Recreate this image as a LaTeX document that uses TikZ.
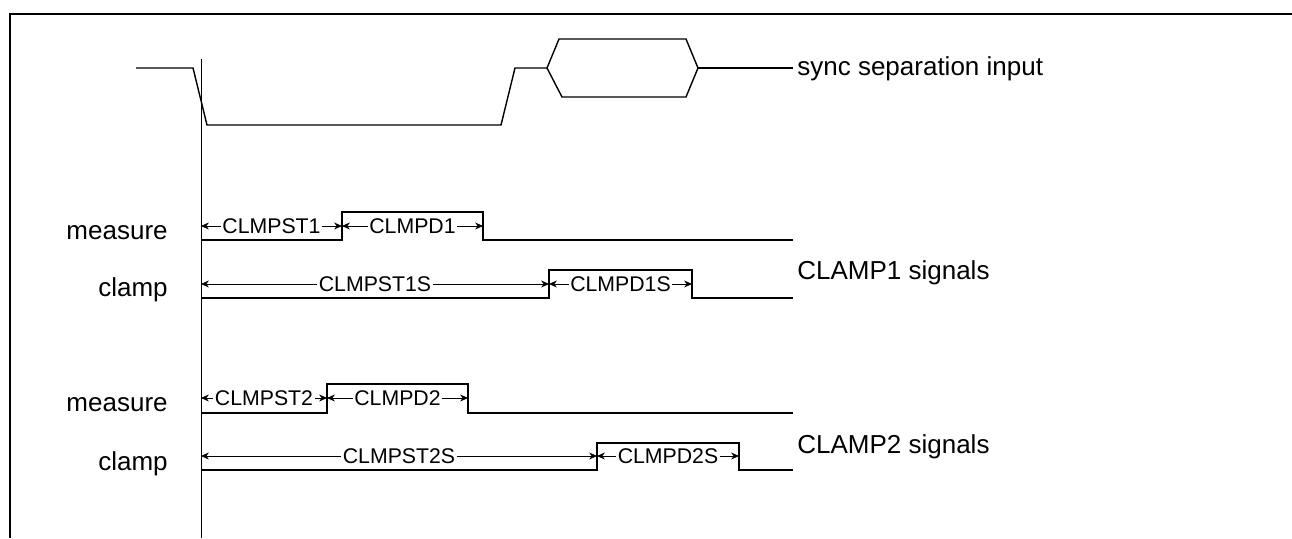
\documentclass[tikz,border=0pt]{standalone}
\usepackage{fontspec}
\setmainfont{Liberation Sans}
\usetikzlibrary{arrows.meta}

\begin{document}
\begin{tikzpicture}[x=0.02cm,y=-0.02cm,
  sig line/.style={line width=0.8pt,line join=miter},
  dim line/.style={{Stealth[length=4.5pt,width=4pt]}-{Stealth[length=4.5pt,width=4pt]},line width=0.45pt},
  dim node/.style={fill=white,inner sep=1pt,font=\fontsize{12.1}{14}\selectfont},
  name node/.style={inner sep=0pt,font=\fontsize{14.8}{17}\selectfont}]
  \useasboundingbox (0,0) rectangle (1292,538);
  % frame and reference edge
  \draw[line width=1.2pt] (10,538) -- (10,14) -- (1292,14);
  \coordinate (ref top) at (201,59);
  \coordinate (ref bot) at (201,538);
  \draw[line width=0.5pt] (ref top) -- (ref bot);

  % sync separation input
  \draw[sig line] (136,68) -- (193,68) -- (207,125) -- (501,125) -- (515,68) -- (547,68);
  \draw[sig line] (547,68) -- (559,39) -- (686,39) -- (698,68) -- (686,97) -- (562,97) -- cycle;
  \draw[sig line] (698,68) -- (793,68);
  \node[name node,anchor=base west] (sync) at (797,75) {sync separation input};

  % CLAMP1
  \node[name node,anchor=base east] (meas1) at (168,239) {measure};
  \node[name node,anchor=base east] (clamp1) at (168,296) {clamp};
  \draw[sig line] (201,240) -- (342,240) -- (342,212) -- (483,212) -- (483,240) -- (793,240);
  \draw[sig line] (201,298) -- (549,298) -- (549,270) -- (692,270) -- (692,298) -- (793,298);
  \coordinate (m1a) at (201,226);
  \coordinate (m1b) at (342,226);
  \coordinate (m1c) at (483,226);
  \coordinate (c1a) at (201,284);
  \coordinate (c1b) at (549,284);
  \coordinate (c1c) at (692,284);
  \draw[dim line] (m1a) -- node[dim node] {CLMPST1} (m1b);
  \draw[dim line] (m1b) -- node[dim node] {CLMPD1} (m1c);
  \draw[dim line] (c1a) -- node[dim node] {CLMPST1S} (c1b);
  \draw[dim line] (c1b) -- node[dim node] {CLMPD1S} (c1c);
  \node[name node,anchor=base west] (sig1) at (797,279) {CLAMP1 signals};

  % CLAMP2
  \node[name node,anchor=base east] (meas2) at (168,411) {measure};
  \node[name node,anchor=base east] (clamp2) at (168,470) {clamp};
  \draw[sig line] (201,413) -- (327,413) -- (327,384) -- (468,384) -- (468,413) -- (793,413);
  \draw[sig line] (201,470) -- (597,470) -- (597,443) -- (739,443) -- (739,470) -- (793,470);
  \coordinate (m2a) at (201,398);
  \coordinate (m2b) at (327,398);
  \coordinate (m2c) at (468,398);
  \coordinate (c2a) at (201,456);
  \coordinate (c2b) at (597,456);
  \coordinate (c2c) at (739,456);
  \draw[dim line] (m2a) -- node[dim node] {CLMPST2} (m2b);
  \draw[dim line] (m2b) -- node[dim node] {CLMPD2} (m2c);
  \draw[dim line] (c2a) -- node[dim node] {CLMPST2S} (c2b);
  \draw[dim line] (c2b) -- node[dim node] {CLMPD2S} (c2c);
  \node[name node,anchor=base west] (sig2) at (797,453) {CLAMP2 signals};
\end{tikzpicture}
\end{document}
